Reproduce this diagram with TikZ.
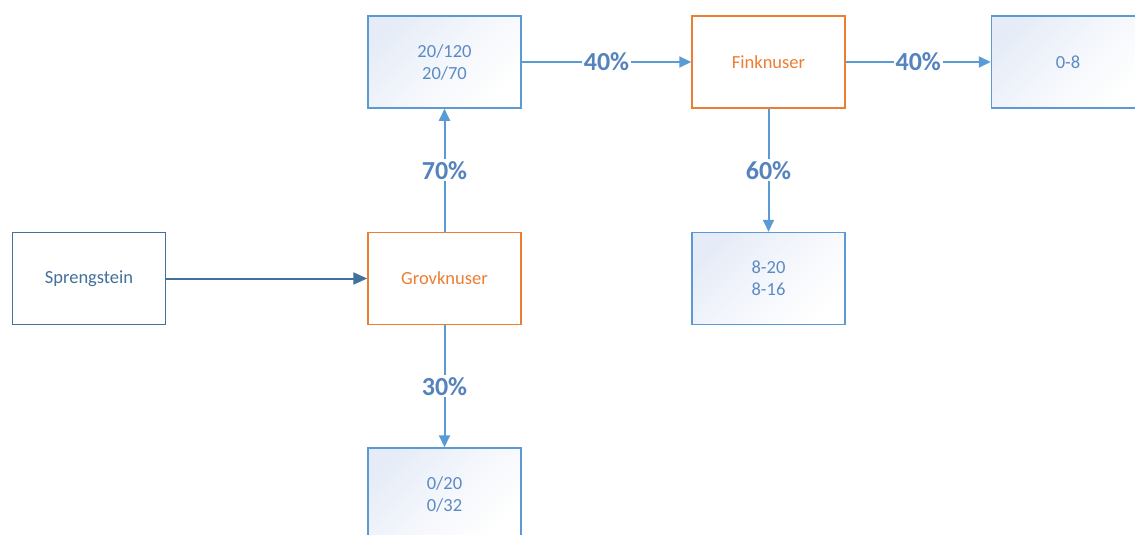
\documentclass[tikz,border=0pt]{standalone}
\usepackage{fontspec}
\setmainfont{Carlito}
\usetikzlibrary{arrows.meta}
\definecolor{lblue}{HTML}{5B9BD5}
\definecolor{dblue}{HTML}{41719C}
\definecolor{txtblue}{HTML}{5B8BC4}
\definecolor{lbltxt}{HTML}{5583BD}
\definecolor{orng}{HTML}{ED7D31}
\definecolor{shadeblue}{HTML}{E6ECF7}
\tikzset{
  box/.style={rectangle, minimum width=153pt, minimum height=92pt, inner sep=0pt, line width=1.5pt, align=center, font=\fontsize{18.5}{22}\selectfont},
  prodbox/.style={box, draw=lblue, text=txtblue, preaction={shade, shading=axis, top color=shadeblue, bottom color=white, middle color=shadeblue!45, shading angle=45}},
  crushbox/.style={box, draw=orng, text=orng, fill=white},
  srcbox/.style={box, draw=dblue, text=dblue, fill=white},
  flow/.style={draw=lblue, line width=2pt, -{Triangle[length=12pt,width=11pt]}},
  srcflow/.style={draw=dblue, line width=2pt, -{Triangle[length=14pt,width=12pt]}},
  pct/.style={fill=white, inner sep=2pt, text=lbltxt, font=\fontsize{26}{30}\selectfont\bfseries}
}
\begin{document}
\begin{tikzpicture}[x=1pt,y=-1pt]
\clip (0,0) rectangle (1135,535);
\fill[white] (0,0) rectangle (1135,535);
\node[srcbox] (A) at (89,278.5) {Sprengstein};
\node[crushbox] (G) at (444.5,278.5) {Grovknuser};
\node[prodbox] (B) at (444.5,62) {20/120\\20/70};
\node[crushbox] (F) at (768.5,62) {Finknuser};
\node[prodbox] (C) at (1068,62) {0-8};
\node[prodbox] (D) at (768.5,278.5) {8-20\\8-16};
\node[prodbox] (E) at (444.5,494) {0/20\\0/32};
\draw[srcflow] (A) -- (G);
\draw[flow] (G) -- node[pct, pos=0.5] {70\%} (B);
\draw[flow] (G) -- node[pct, pos=0.5] {30\%} (E);
\draw[flow] (B) -- node[pct, pos=0.5] {40\%} (F);
\draw[flow] (F) -- node[pct, pos=0.5] {40\%} (C);
\draw[flow] (F) -- node[pct, pos=0.5] {60\%} (D);
\end{tikzpicture}
\end{document}
